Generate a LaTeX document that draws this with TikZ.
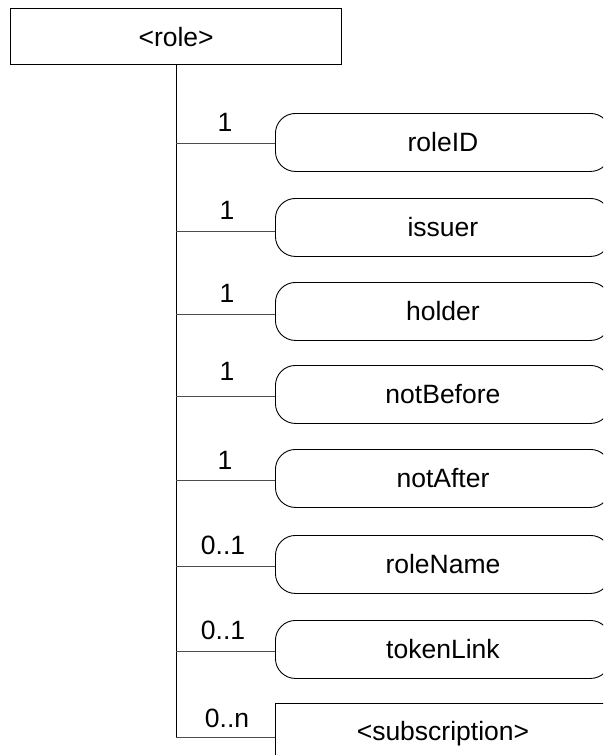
\documentclass[tikz,border=0pt]{standalone}
\usepackage{fontspec}
\setmainfont{Liberation Sans}
\begin{document}
\begin{tikzpicture}[x=1pt,y=-1pt,
  every node/.style={font=\fontsize{26.5}{30}\selectfont, inner sep=0pt},
  rolebox/.style={draw=black, line width=1.3pt, rectangle, minimum width=331pt, minimum height=56pt, anchor=north west},
  elembox/.style={draw=black, line width=0.9pt, rectangle, rounded corners=20pt, minimum width=335pt, minimum height=58pt, anchor=north west},
  subbox/.style={draw=black, line width=0.9pt, rectangle, minimum width=335pt, minimum height=60pt, anchor=north west},
  trunk/.style={draw=black, line width=0.9pt},
  branch/.style={draw=black!70, line width=0.9pt},
  mult/.style={font=\fontsize{26.5}{30}\selectfont}
]
\useasboundingbox (0,0) rectangle (603,755);
\clip (0,0) rectangle (603,755);
\fill[white] (0,0) rectangle (603,755);

\node[rolebox] (role) at (10,8) {<role>};

\node[elembox] (roleID) at (275,113) {roleID};
\node[elembox] (issuer) at (275,198) {issuer};
\node[elembox] (holder) at (275,282) {holder};
\node[elembox] (notBefore) at (275,365) {notBefore};
\node[elembox] (notAfter) at (275,449) {notAfter};
\node[elembox] (roleName) at (275,535) {roleName};
\node[elembox] (tokenLink) at (275,620) {tokenLink};
\node[subbox] (subscription) at (275,703) {<subscription>};

\coordinate (tA) at (176,143);
\coordinate (tB) at (176,231);
\coordinate (tC) at (176,314);
\coordinate (tD) at (176,396);
\coordinate (tE) at (176,480);
\coordinate (tF) at (176,566);
\coordinate (tG) at (176,651);
\coordinate (tH) at (176,737);
\coordinate (ttop) at (176,64);

\draw[trunk] (ttop) -- (tH);

\draw[branch] (tA) -- (roleID.west |- tA);
\draw[branch] (tB) -- (issuer.west |- tB);
\draw[branch] (tC) -- (holder.west |- tC);
\draw[branch] (tD) -- (notBefore.west |- tD);
\draw[branch] (tE) -- (notAfter.west |- tE);
\draw[branch] (tF) -- (roleName.west |- tF);
\draw[branch] (tG) -- (tokenLink.west |- tG);
\draw[branch] (tH) -- (subscription.west |- tH);

\node[mult] (mA) at (225,122) {1};
\node[mult] (mB) at (227,210) {1};
\node[mult] (mC) at (227,293) {1};
\node[mult] (mD) at (227,371) {1};
\node[mult] (mE) at (225,460) {1};
\node[mult] (mF) at (223,545) {0..1};
\node[mult] (mG) at (223,630) {0..1};
\node[mult] (mH) at (227,718) {0..n};
\end{tikzpicture}
\end{document}
